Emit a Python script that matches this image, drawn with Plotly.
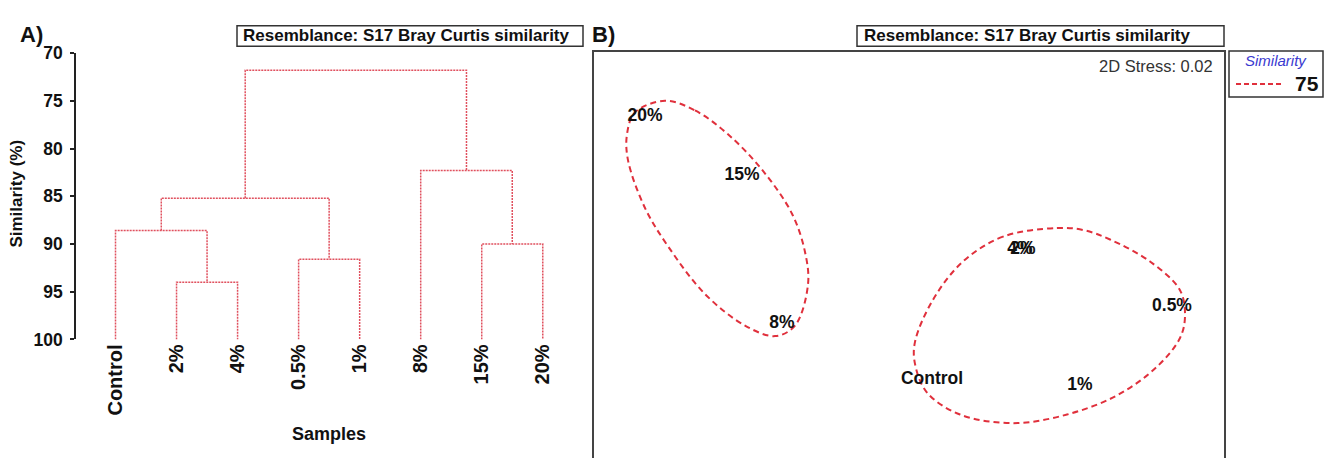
import plotly.graph_objects as go

W, H = 1326, 458

# ---------------- data ----------------
# Panel A: dendrogram (group average, Bray-Curtis similarity %)
samples = ["Control", "2%", "4%", "0.5%", "1%", "8%", "15%", "20%"]
# linkage: node ids 0-7 are samples, merged nodes get ids 8, 9, ...
merge_a = [1, 0, 3, 9, 6, 5, 11]
merge_b = [2, 8, 4, 10, 7, 12, 13]
merge_sim = [94.0, 88.6, 91.6, 85.2, 90.0, 82.3, 71.8]
sim_ticks = [70, 75, 80, 85, 90, 95, 100]

# Panel B: nMDS ordination
nmds_labels = ["20%", "15%", "8%", "4%", "2%", "0.5%", "Control", "1%"]
nmds_x = [-1.34, -0.855, -0.655, 0.535, 0.55, 1.295, 0.095, 0.835]
nmds_y = [0.69, 0.385, -0.39, -0.005, -0.005, -0.30, -0.68, -0.715]

# 75 % similarity contours (outline)
cont1_x = [-1.24, -1.09, -0.925, -0.755, -0.605, -0.54, -0.525, -0.59, -0.69,
           -0.84, -1.04, -1.225, -1.34, -1.425, -1.43, -1.39, -1.24]
cont1_y = [0.775, 0.725, 0.60, 0.415, 0.185, -0.015, -0.185, -0.40, -0.455,
           -0.40, -0.235, 0.015, 0.215, 0.465, 0.60, 0.715, 0.775]
cont2_x = [0.72, 0.45, 0.25, 0.10, 0.01, 0.01, 0.07, 0.235, 0.50, 0.77, 1.02,
           1.22, 1.335, 1.36, 1.335, 1.185, 0.985, 0.85, 0.72]
cont2_y = [0.11, 0.065, -0.065, -0.265, -0.485, -0.60, -0.75, -0.865, -0.91,
           -0.865, -0.765, -0.615, -0.465, -0.35, -0.215, -0.065, 0.05, 0.10, 0.11]
stress = 0.02
contour_level = 75

# ---------------- build dendrogram segments ----------------
pos = {i: i + 1 for i in range(len(samples))}
hgt = {i: 100 for i in range(len(samples))}
dx, dy = [], []
for k, (a, b, s) in enumerate(zip(merge_a, merge_b, merge_sim)):
    node = len(samples) + k
    dx += [pos[a], pos[a], pos[b], pos[b], None]
    dy += [hgt[a], s, s, hgt[b], None]
    pos[node] = (pos[a] + pos[b]) / 2
    hgt[node] = s

FONT = "Liberation Sans, Arial, sans-serif"
RED_D = "#e0505e"
RED_C = "#e0303c"

fig = go.Figure()
fig.add_trace(go.Scatter(x=dx, y=dy, mode="lines", xaxis="x", yaxis="y",
                         line=dict(color=RED_D, width=1.5, dash="2px,1px"),
                         hoverinfo="skip", showlegend=False))

for cx, cy in [(cont1_x, cont1_y), (cont2_x, cont2_y)]:
    fig.add_trace(go.Scatter(x=cx, y=cy, mode="lines", xaxis="x2", yaxis="y2",
                             line=dict(color=RED_C, width=2, dash="6px,4px",
                                       shape="spline", smoothing=1.0),
                             hoverinfo="skip", showlegend=False))

fig.add_trace(go.Scatter(x=nmds_x, y=nmds_y, mode="text", text=nmds_labels,
                         xaxis="x2", yaxis="y2", cliponaxis=False,
                         textfont=dict(family=FONT, size=17.5, color="#111",
                                       weight="bold"),
                         hoverinfo="skip", showlegend=False))

# panel A geometry
px_leaf1, px_step = 115.5, 61.04
ax_px = 76
x_lo = 1 - (px_leaf1 - ax_px) / px_step
x_hi = 8.5
x_right_px = px_leaf1 + (x_hi - 1) * px_step
yA_top, yA_bot = 45, 344.5

def py(p):
    return 1 - p / H

def pxx(p):
    return p / W

fig.update_layout(
    width=W, height=H, margin=dict(l=0, r=0, t=0, b=0),
    paper_bgcolor="white", plot_bgcolor="rgba(0,0,0,0)",
    showlegend=False,
    xaxis=dict(domain=[pxx(ax_px), pxx(x_right_px)], range=[x_lo, x_hi],
               tickvals=list(range(1, len(samples) + 1)), ticktext=samples,
               tickangle=-90, ticks="", showline=False, showgrid=False,
               zeroline=False, anchor="y",
               tickfont=dict(family=FONT, size=20, color="#111", weight="bold")),
    yaxis=dict(domain=[py(yA_bot), py(yA_top)], range=[100, 70],
               tickvals=sim_ticks, ticks="outside", ticklen=4, tickwidth=1.5,
               tickcolor="#222", showline=True, linecolor="#222", linewidth=1.5,
               showgrid=False, zeroline=False, anchor="x", ticklabelstandoff=4,
               tickfont=dict(family=FONT, size=17.5, color="#111", weight="bold")),
    yaxis3=dict(overlaying="y", anchor="x", side="left", range=[100, 70],
                tickvals=sim_ticks, ticks="inside", ticklen=4, tickwidth=1.5,
                tickcolor="#222", showticklabels=False, showline=False,
                showgrid=False, zeroline=False),
    xaxis2=dict(domain=[pxx(593), pxx(1225)], range=[-1.6, 1.56],
                visible=False, anchor="y2"),
    yaxis2=dict(domain=[0, py(43)], range=[-1.04, 1.035],
                visible=False, anchor="x2"),
)

line_dark = dict(color="#333", width=1.5)
shapes = [
    # title boxes
    dict(type="rect", xref="paper", yref="paper", x0=pxx(237), x1=pxx(583),
         y0=py(38), y1=py(16.5), line=line_dark),
    dict(type="rect", xref="paper", yref="paper", x0=pxx(857), x1=pxx(1224),
         y0=py(38), y1=py(16.5), line=line_dark),
    # nMDS frame
    dict(type="rect", xref="paper", yref="paper", x0=pxx(593), x1=pxx(1225),
         y0=-0.05, y1=py(43), line=dict(color="#444", width=2)),
    # legend box
    dict(type="rect", xref="paper", yref="paper", x0=pxx(1229), x1=pxx(1323),
         y0=py(91), y1=py(43), line=line_dark),
    dict(type="line", xref="paper", yref="paper", x0=pxx(1236), x1=pxx(1284),
         y0=py(77.5), y1=py(77.5), line=dict(color=RED_C, width=2, dash="5px,3px")),
]

def ann(text, x, y, size, xanchor="center", color="#111", bold=True,
        italic=False, angle=0):
    return dict(text=text, xref="paper", yref="paper", x=pxx(x), y=py(y),
                xanchor=xanchor, yanchor="middle", showarrow=False,
                textangle=angle,
                font=dict(family=FONT, size=size, color=color,
                          weight="bold" if bold else "normal",
                          style="italic" if italic else "normal"))

annotations = [
    ann("A)", 31, 26, 22),
    ann("B)", 603, 26, 22),
    ann("Resemblance: S17 Bray Curtis similarity", 241, 27, 17, xanchor="left"),
    ann("Resemblance: S17 Bray Curtis similarity", 862, 27, 17, xanchor="left"),
    ann("Similarity (%)", 17, 192, 17, angle=-90),
    ann("Samples", 329, 443, 18),
    ann(f"2D Stress: {stress:.2f}", 1215, 59, 16.5, xanchor="right",
        color="#333", bold=False),
    ann("Similarity", 1276, 53, 15, color="#3a3ad0", bold=False, italic=True),
    ann(str(contour_level), 1307, 77, 21),
]

fig.update_layout(shapes=shapes, annotations=annotations)
fig.write_html("out.html", config={"displayModeBar": False},
               post_script="document.body.style.margin='0';"
                           "document.body.style.overflow='hidden';")
